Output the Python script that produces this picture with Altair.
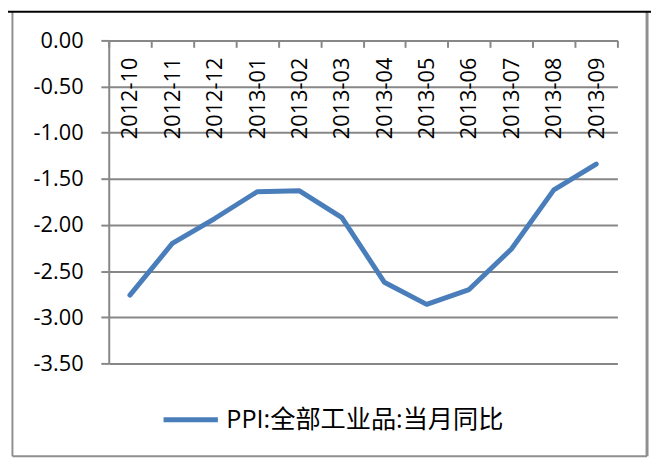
import altair as alt
import pandas as pd

months = ["2012-10", "2012-11", "2012-12", "2013-01", "2013-02", "2013-03",
          "2013-04", "2013-05", "2013-06", "2013-07", "2013-08", "2013-09"]
ppi_yoy = [-2.76, -2.20, -1.93, -1.64, -1.63, -1.92,
           -2.62, -2.86, -2.70, -2.26, -1.62, -1.34]
series_name = "PPI:全部工业品:当月同比"
y_ticks = [0.0, -0.5, -1.0, -1.5, -2.0, -2.5, -3.0, -3.5]

df = pd.DataFrame({"month": months, "value": ppi_yoy, "series": series_name})
frame_df = pd.DataFrame({"k": [0]})

W, H = 515, 327
FONT = "Open Sans, Noto Sans CJK SC, sans-serif"
GRID = "#878787"
FRAME = "#8f8f8f"

line = alt.Chart(df).mark_line(strokeWidth=5, strokeCap="round", strokeJoin="round").encode(
    x=alt.X("month:N", sort=months, bandPosition=0.5,
            scale=alt.Scale(type="band", paddingInner=0, paddingOuter=0),
            axis=alt.Axis(title=None, orient="bottom", offset=-H, labelAngle=-90,
                          labelAlign="right", labelBaseline="middle", labelPadding=10,
                          tickSize=7, tickBand="extent", grid=False,
                          domainColor=GRID, domainWidth=2, tickColor=GRID, tickWidth=2,
                          labelFont=FONT, labelFontSize=22, labelColor="black")),
    y=alt.Y("value:Q", scale=alt.Scale(domain=[-3.5, 0], nice=False, zero=False),
            axis=alt.Axis(title=None, values=y_ticks,
                          labelExpr="(datum.value < 0 ? '-' : '') + format(abs(datum.value), '.2f')",
                          grid=True, gridColor=GRID, gridWidth=2,
                          domainColor=GRID, domainWidth=2, tickColor=GRID, tickWidth=2,
                          tickSize=8, labelPadding=18,
                          labelFont=FONT, labelFontSize=22, labelColor="black")),
    color=alt.Color("series:N",
                    scale=alt.Scale(domain=[series_name], range=["#4a7ebb"]),
                    legend=alt.Legend(title=None, orient="none", legendX=53, legendY=354,
                                      symbolType="stroke", symbolSize=3025, symbolStrokeWidth=5,
                                      labelFont=FONT, labelFontSize=25.5, labelColor="black",
                                      labelOffset=6, labelLimit=500))
)

left = alt.Chart(frame_df).mark_rule(color=FRAME, strokeWidth=2).encode(
    x=alt.value(-97.5), y=alt.value(-29), y2=alt.value(421))
right = alt.Chart(frame_df).mark_rule(color=FRAME, strokeWidth=3).encode(
    x=alt.value(545), y=alt.value(-29), y2=alt.value(421))
top = alt.Chart(frame_df).mark_rule(color="black", strokeWidth=2).encode(
    x=alt.value(-102), x2=alt.value(560), y=alt.value(-29))
bottom = alt.Chart(frame_df).mark_rule(color=FRAME, strokeWidth=2).encode(
    x=alt.value(-97.5), x2=alt.value(545), y=alt.value(421))

chart = alt.layer(line, left, right, top, bottom).properties(
    width=W, height=H,
    autosize="none",
    padding={"left": 102, "top": 30, "right": 34, "bottom": 96},
    background="white",
).configure_view(stroke="transparent")

chart.save("out.html", embed_options={"renderer": "svg", "actions": False})
